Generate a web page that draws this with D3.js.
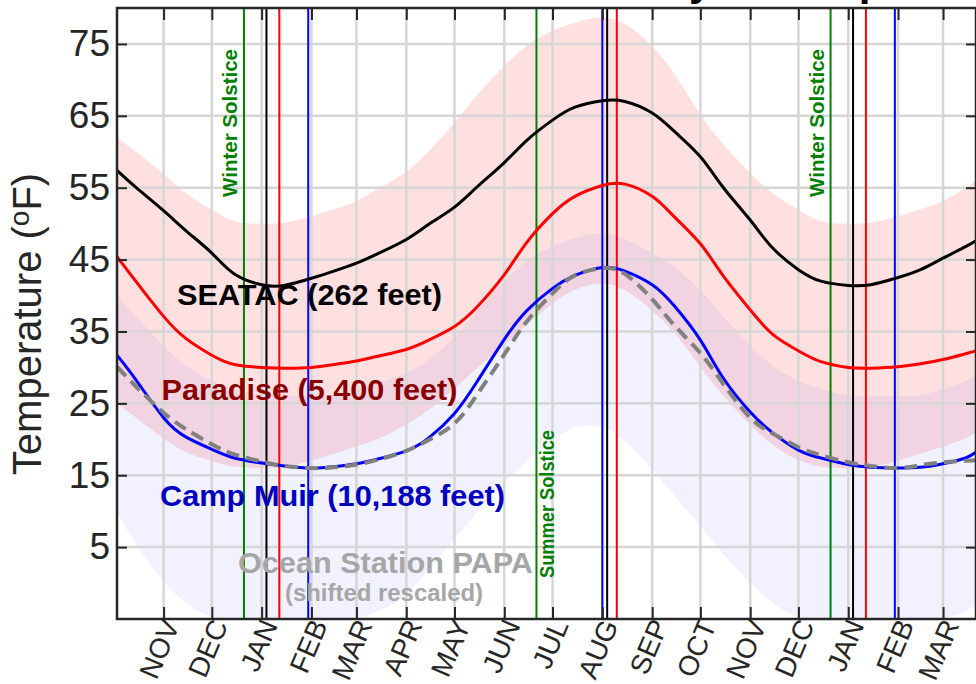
<!DOCTYPE html>
<html>
<head>
<meta charset="utf-8">
<script src="https://cdn.jsdelivr.net/npm/d3@7"></script>
<style>
  body { margin: 0; background: #fff; }
  svg { display: block; font-family: "Liberation Sans", Arial, Helvetica, sans-serif; }
</style>
</head>
<body>
<div id="chart"></div>
<script>
// climatology curves, read every half month
const sampleDates = [
  "2000-10-03", "2000-10-15", "2000-11-01", "2000-11-15", "2000-12-01", "2000-12-15",
  "2001-01-01", "2001-01-15", "2001-02-01", "2001-02-15", "2001-03-01", "2001-03-15",
  "2001-04-01", "2001-04-15", "2001-05-01", "2001-05-15", "2001-06-01", "2001-06-15",
  "2001-07-01", "2001-07-15", "2001-08-01", "2001-08-15", "2001-09-01", "2001-09-15",
  "2001-10-01", "2001-10-15", "2001-11-01", "2001-11-15", "2001-12-01", "2001-12-15",
  "2002-01-01", "2002-01-15", "2002-02-01", "2002-02-15", "2002-03-01", "2002-03-15",
  "2002-03-22"
];
const seatacTemp = [57.4, 55.0, 51.8, 49.0, 45.9, 43.0, 41.5, 41.4, 42.4, 43.4, 44.5, 45.9,
  47.8, 49.9, 52.3, 55.1, 58.5, 61.6, 64.4, 66.2, 67.1, 67.0, 65.4, 62.8,
  59.3, 55.1, 50.5, 46.6, 43.6, 42.0, 41.4, 41.5, 42.5, 43.6, 45.2, 46.8, 47.7];
const paradiseTemp = [45.4, 41.9, 37.1, 34.0, 31.7, 30.4, 30.0, 29.9, 30.0, 30.4, 30.9, 31.6,
  32.5, 33.8, 35.7, 38.4, 42.9, 47.4, 51.4, 53.8, 55.3, 55.5, 53.8, 50.9,
  47.2, 42.8, 38.0, 34.6, 32.3, 30.8, 30.0, 29.9, 30.1, 30.5, 31.1, 31.9, 32.3];
const campMuirTemp = [31.7, 28.2, 23.0, 20.3, 18.6, 17.4, 16.7, 16.3, 16.0, 16.2, 16.6, 17.3,
  18.4, 20.2, 23.6, 28.0, 33.9, 37.9, 41.0, 42.8, 43.9, 43.4, 41.5, 38.5,
  33.8, 28.6, 23.8, 20.9, 18.5, 17.4, 16.5, 16.1, 16.0, 16.1, 16.6, 17.4, 18.3];
const papaTemp = [30.1, 27.3, 23.7, 21.4, 19.3, 17.9, 16.9, 16.3, 16.0, 16.1, 16.5, 17.2,
  18.4, 19.9, 22.2, 26.2, 31.8, 36.4, 40.3, 42.8, 43.8, 43.0, 39.5, 35.8,
  32.0, 27.8, 23.0, 20.8, 18.9, 17.8, 16.8, 16.3, 16.0, 16.4, 16.8, 17.0, 17.1];

// rough envelopes of the daily observation clouds
const redCloudHigh = [62, 60, 57, 54, 52, 50, 50, 50, 51, 52, 53, 55, 57, 60, 64, 68, 72, 75,
  77, 78, 79, 78, 75, 71, 65, 61, 57, 54, 52, 50, 50, 50, 51, 52, 53, 55, 56];
const redCloudLow = [25, 23, 20, 18, 17, 16, 16, 16, 17, 18, 19, 20, 22, 24, 27, 30, 33, 36,
  39, 41, 42, 41, 38, 35, 30, 26, 22, 19, 17, 16, 16, 16, 17, 18, 19, 20, 21];
const blueCloudHigh = [40, 37, 33, 30, 28, 27, 26, 26, 26, 26, 27, 28, 29, 31, 34, 38, 42, 45,
  47, 48, 49, 48, 46, 44, 41, 37, 33, 30, 28, 27, 26, 26, 26, 26, 27, 28, 29];
const blueCloudLow = [10, 5, 0, -3, -5, -5, -5, -5, -5, -5, -5, -4, -2, 2, 6, 10, 14, 17,
  20, 22, 22, 20, 16, 12, 8, 4, 0, -3, -5, -5, -5, -5, -5, -5, -5, -4, -3];

const monthLabels = ["NOV", "DEC", "JAN", "FEB", "MAR", "APR", "MAY", "JUN", "JUL",
  "AUG", "SEP", "OCT", "NOV", "DEC", "JAN", "FEB", "MAR"];
const tempTicks = [5, 15, 25, 35, 45, 55, 65, 75];

const solsticeDates = ["2000-12-21", "2001-06-21", "2001-12-21"];
const solsticeLabels = ["Winter Solstice", "Summer Solstice", "Winter Solstice"];
const seatacExtremes = ["2001-01-04", "2001-08-04", "2002-01-04"];
const paradiseExtremes = ["2001-01-12", "2001-08-10", "2002-01-12"];
const campMuirExtremes = ["2001-01-30", "2001-08-01", "2002-01-30"];

const parseDate = d3.timeParse("%Y-%m-%d");
const dates = sampleDates.map(parseDate);

const width = 976, height = 684;
const plotLeft = 117, plotRight = 976, plotTop = 8, plotBottom = 619;

const x = d3.scaleTime()
  .domain([new Date(2000, 9, 3), new Date(2002, 2, 21, 12)])
  .range([plotLeft, plotRight]);
const y = d3.scaleLinear().domain([-5, 80]).range([plotBottom, plotTop]);

const monthTicks = d3.timeMonth.range(new Date(2000, 10, 1), new Date(2002, 2, 2));

const svg = d3.select("#chart").append("svg")
  .attr("width", width)
  .attr("height", height);

svg.append("rect").attr("width", width).attr("height", height).attr("fill", "#fff");

svg.append("clipPath").attr("id", "plot-clip")
  .append("rect")
  .attr("x", plotLeft).attr("y", plotTop)
  .attr("width", plotRight - plotLeft).attr("height", plotBottom - plotTop);

const plot = svg.append("g").attr("clip-path", "url(#plot-clip)");

// observation clouds
const cloud = (lo, hi) => d3.area()
  .x((d, i) => x(dates[i]))
  .y0((d, i) => y(lo[i]))
  .y1((d, i) => y(hi[i]))
  .curve(d3.curveBasis);

plot.append("path")
  .attr("d", cloud(redCloudLow, redCloudHigh)(sampleDates))
  .attr("fill", "#ff0000")
  .attr("opacity", 0.12);
plot.append("path")
  .attr("d", cloud(blueCloudLow, blueCloudHigh)(sampleDates))
  .attr("fill", "#0000ff")
  .attr("opacity", 0.055);

// grid
plot.selectAll(".vgrid")
  .data(monthTicks)
  .enter()
  .append("line")
  .attr("x1", (d) => x(d)).attr("x2", (d) => x(d))
  .attr("y1", plotTop).attr("y2", plotBottom)
  .attr("stroke", "#d6d6d6")
  .attr("stroke-width", 2.5);
plot.selectAll(".hgrid")
  .data(tempTicks)
  .enter()
  .append("line")
  .attr("x1", plotLeft).attr("x2", plotRight)
  .attr("y1", (d) => y(d)).attr("y2", (d) => y(d))
  .attr("stroke", "#d6d6d6")
  .attr("stroke-width", 2.5);

// vertical markers
const markers = [
  { list: solsticeDates, color: "#008000" },
  { list: seatacExtremes, color: "#000" },
  { list: paradiseExtremes, color: "#ff0000" },
  { list: campMuirExtremes, color: "#0000ff" },
];
markers.forEach((m) => {
  plot.selectAll(null)
    .data(m.list.map(parseDate))
    .enter()
    .append("line")
    .attr("x1", (d) => x(d)).attr("x2", (d) => x(d))
    .attr("y1", plotTop).attr("y2", plotBottom)
    .attr("stroke", m.color)
    .attr("stroke-width", 2);
});

const line = (vals) => d3.line()
  .x((d, i) => x(dates[i]))
  .y((d, i) => y(vals[i]))
  .curve(d3.curveNatural)(sampleDates);

plot.append("path").attr("d", line(seatacTemp))
  .attr("fill", "none").attr("stroke", "#000").attr("stroke-width", 3);
plot.append("path").attr("d", line(paradiseTemp))
  .attr("fill", "none").attr("stroke", "#ff0000").attr("stroke-width", 3);
plot.append("path").attr("d", line(campMuirTemp))
  .attr("fill", "none").attr("stroke", "#0000ff").attr("stroke-width", 3);
plot.append("path").attr("d", line(papaTemp))
  .attr("fill", "none").attr("stroke", "#808080").attr("stroke-width", 4)
  .attr("stroke-dasharray", "13,7");

// axes
const axisColor = "#262626";
const bottomAxis = svg.append("g")
  .attr("transform", `translate(0,${plotBottom})`)
  .call(d3.axisBottom(x).tickValues(monthTicks)
    .tickFormat((d, i) => monthLabels[i])
    .tickSizeInner(-12).tickSizeOuter(0));
bottomAxis.selectAll("text")
  .attr("x", 0).attr("y", 0).attr("dy", "0.35em")
  .attr("text-anchor", "end")
  .attr("transform", "translate(7,2) rotate(-67)")
  .style("font-size", "28px")
  .attr("fill", axisColor);

const topAxis = svg.append("g")
  .attr("transform", `translate(0,${plotTop})`)
  .call(d3.axisTop(x).tickValues(monthTicks).tickFormat("")
    .tickSizeInner(-12).tickSizeOuter(0));

const leftAxis = svg.append("g")
  .attr("transform", `translate(${plotLeft},0)`)
  .call(d3.axisLeft(y).tickValues(tempTicks)
    .tickSizeInner(-10).tickSizeOuter(0).tickPadding(7));
leftAxis.selectAll("text")
  .style("font-size", "37px")
  .attr("fill", axisColor);

const rightAxis = svg.append("g")
  .attr("transform", `translate(${plotRight},0)`)
  .call(d3.axisRight(y).tickValues(tempTicks).tickFormat("")
    .tickSizeInner(-10).tickSizeOuter(0));

[bottomAxis, topAxis, leftAxis, rightAxis].forEach((g) => {
  g.select(".domain").remove();
  g.selectAll(".tick line").attr("stroke", axisColor).attr("stroke-width", 2);
});

svg.append("rect")
  .attr("x", plotLeft).attr("y", plotTop)
  .attr("width", plotRight - plotLeft).attr("height", plotBottom - plotTop)
  .attr("fill", "none")
  .attr("stroke", axisColor)
  .attr("stroke-width", 2.5);

// annotations
solsticeDates.forEach((d, i) => {
  const xs = x(parseDate(d));
  const summer = i === 1;
  svg.append("text")
    .attr("transform", summer
      ? `translate(${xs + 18},578) rotate(-90)`
      : `translate(${xs - 7},197) rotate(-90)`)
    .attr("font-size", 20)
    .attr("font-weight", "bold")
    .attr("fill", "#008000")
    .attr("textLength", 148)
    .attr("lengthAdjust", "spacingAndGlyphs")
    .text(solsticeLabels[i]);
});

const labels = [
  { text: "SEATAC (262 feet)", x: 177, y: 305, size: 30, len: 265, color: "#000" },
  { text: "Paradise (5,400 feet)", x: 161.5, y: 400, size: 30, len: 296, color: "#880000" },
  { text: "Camp Muir (10,188 feet)", x: 160, y: 506, size: 30, len: 345, color: "#0000c0" },
  { text: "Ocean Station PAPA", x: 238, y: 573, size: 30, len: 295, color: "#a6a6a6" },
  { text: "(shifted rescaled)", x: 285, y: 601, size: 24, len: 198, color: "#a6a6a6" },
];
svg.selectAll(".station-label")
  .data(labels)
  .enter()
  .append("text")
  .attr("x", (d) => d.x)
  .attr("y", (d) => d.y)
  .attr("font-size", (d) => d.size)
  .attr("font-weight", "bold")
  .attr("fill", (d) => d.color)
  .attr("textLength", (d) => d.len)
  .attr("lengthAdjust", "spacingAndGlyphs")
  .text((d) => d.text);

const ylab = svg.append("text")
  .attr("transform", "translate(41,324) rotate(-90)")
  .attr("text-anchor", "middle")
  .attr("font-size", 40)
  .attr("fill", axisColor);
ylab.append("tspan").text("Temperature (");
ylab.append("tspan").attr("font-size", 28).attr("dy", -12).text("o");
ylab.append("tspan").attr("dy", 12).text("F)");

// title sits above the visible frame, only descenders show
svg.append("text")
  .attr("x", 479)
  .attr("y", -5)
  .attr("font-size", 42)
  .attr("font-weight", "bold")
  .attr("fill", "#000")
  .text("Seasonality of Temperature");
</script>
</body>
</html>
